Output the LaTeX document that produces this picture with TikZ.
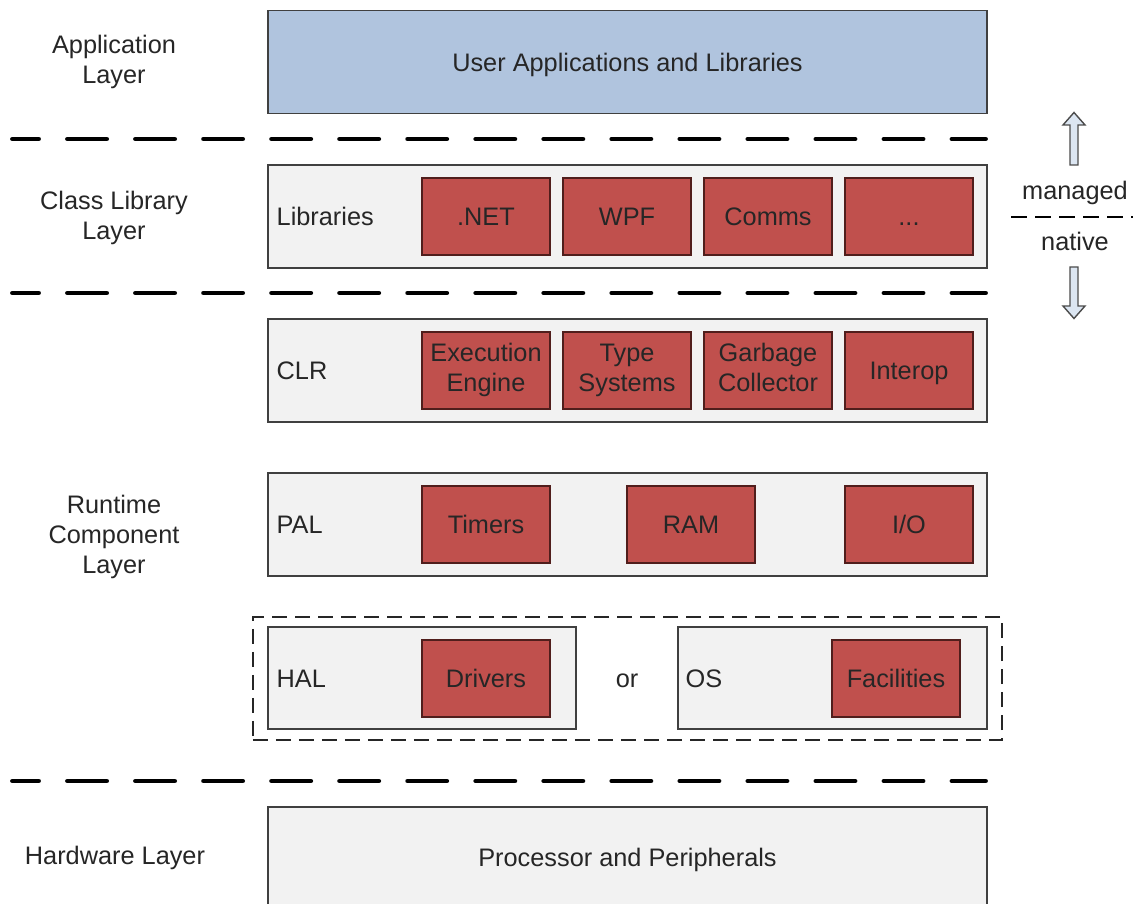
\documentclass[tikz,border=0pt]{standalone}
\usepackage{fontspec}
\setmainfont{Liberation Sans}
% strut centred on the capital height, so text sits in the middle of its box
\newcommand{\layerstrut}{\rule[-1.6pt]{0pt}{8.4pt}}
\begin{document}
\begin{tikzpicture}[x=0.01cm, y=-0.01cm,
  every node/.style={font=\fontsize{7.2}{8.6}\selectfont, text=black!85, align=center,
    execute at begin node=\layerstrut, execute at end node=\layerstrut},
  layerbox/.style={draw=black!75, line width=0.45pt, fill=black!5, minimum width=7.19cm, minimum height=1.03cm, inner sep=0pt},
  appbox/.style={layerbox, fill={rgb,255:red,176;green,196;blue,222}},
  halfbox/.style={layerbox, minimum width=3.08cm, minimum height=1.02cm},
  part/.style={draw={rgb,255:red,80;green,30;blue,28}, line width=0.45pt, fill={rgb,255:red,192;green,80;blue,77}, minimum width=1.28cm, minimum height=0.77cm, inner sep=0pt},
  boxlabel/.style={anchor=west, inner sep=0pt},
  sidelabel/.style={inner sep=0pt},
  separator/.style={line width=1.4pt, line cap=round, dash pattern=on 0.39cm off 0.29cm, dash phase=0.13cm},
  groupbox/.style={draw=black!85, line width=0.55pt, dash pattern=on 0.15cm off 0.08cm, minimum width=7.49cm, minimum height=1.23cm, inner sep=0pt},
  blockarrow/.style={draw=black!70, line width=0.4pt, fill={rgb,255:red,220;green,230;blue,242}, line join=miter},
]
\clip (0,0) rectangle (1139,904);
\fill[white] (0,0) rectangle (1139,904);

% layer names on the left
\node[sidelabel] (lapp) at (114,62) {Application\\Layer};
\node[sidelabel] (lcls) at (114,218) {Class Library\\Layer};
\node[sidelabel] (lrt)  at (114,537) {Runtime\\Component\\Layer};
\node[sidelabel] (lhw)  at (115,855) {Hardware Layer};

% application layer
\node[appbox] (app) at (627.5,62) {User Applications and Libraries};

% layer separators
\draw[separator] (12.5,139) -- (985.5,139);
\draw[separator] (12.5,293) -- (985.5,293);
\draw[separator] (12.5,781) -- (985.5,781);

% class libraries
\node[layerbox] (libs) at (627.5,216.5) {};
\node[boxlabel] (libsl) at (276,216.5) {Libraries};
\node[part] (net)   at (486,216.5) {.NET};
\node[part] (wpf)   at (627,216.5) {WPF};
\node[part] (comms) at (768,216.5) {Comms};
\node[part] (more)  at (909,216.5) {...};

% CLR
\node[layerbox] (clr) at (627.5,370.5) {};
\node[boxlabel] (clrl) at (276,370.5) {CLR};
\node[part] (ee)  at (486,370.5) {Execution\\Engine};
\node[part] (ts)  at (627,370.5) {Type\\Systems};
\node[part] (gc)  at (768,370.5) {Garbage\\Collector};
\node[part] (iop) at (909,370.5) {Interop};

% PAL
\node[layerbox] (pal) at (627.5,524.5) {};
\node[boxlabel] (pall) at (276,524.5) {PAL};
\node[part] (timers) at (486,524.5) {Timers};
\node[part] (ram)    at (691,524.5) {RAM};
\node[part] (io)     at (909,524.5) {I/O};

% HAL or OS
\node[groupbox] (grp) at (627.5,678.5) {};
\node[halfbox] (hal) at (422,678) {};
\node[boxlabel] (hall) at (276,678) {HAL};
\node[part] (drv) at (486,678.5) {Drivers};
\node (or) at (627,678) {or};
\node[halfbox, minimum width=3.09cm] (os) at (832.5,678) {};
\node[boxlabel] (osl) at (685,678) {OS};
\node[part] (fac) at (896,678.5) {Facilities};

% hardware
\node[layerbox, minimum height=1.08cm] (hw) at (627.5,861) {};
\node (hwtext) at (627.5,857) {Processor and Peripherals};

% managed / native boundary
\node[sidelabel] (managed) at (1075,190) {managed};
\node[sidelabel] (native)  at (1075,241) {native};
\draw[line width=0.55pt, dash pattern=on 0.16cm off 0.08cm] (1011,217) -- (1133,217);
\draw[blockarrow] (1070,165) -- (1070,125) -- (1063,125) -- (1074,112.5) -- (1085,125) -- (1078,125) -- (1078,165) -- cycle;
\draw[blockarrow] (1070,267) -- (1070,306) -- (1063,306) -- (1074,318.5) -- (1085,306) -- (1078,306) -- (1078,267) -- cycle;
\end{tikzpicture}
\end{document}
